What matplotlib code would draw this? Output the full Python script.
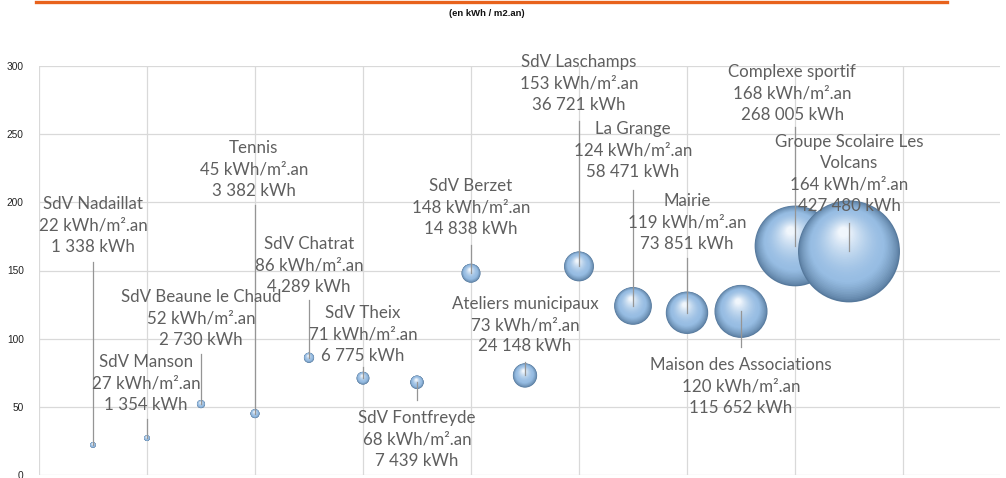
import matplotlib
matplotlib.use("Agg")
import matplotlib.pyplot as plt
import numpy as np
from matplotlib.lines import Line2D
from matplotlib.colors import to_rgb

# ---- data ----
names = ["SdV Nadaillat", "SdV Manson", "SdV Beaune le Chaud", "Tennis", "SdV Chatrat",
         "SdV Theix", "SdV Fontfreyde", "SdV Berzet", "Ateliers municipaux", "SdV Laschamps",
         "La Grange", "Mairie", "Maison des Associations", "Complexe sportif",
         "Groupe Scolaire Les\nVolcans"]
rank = [1, 2, 3, 4, 5, 6, 7, 8, 9, 10, 11, 12, 13, 14, 15]
intensity = [22, 27, 52, 45, 86, 71, 68, 148, 73, 153, 124, 119, 120, 168, 164]
consumption = [1338, 1354, 2730, 3382, 4289, 6775, 7439, 14838, 24148, 36721,
               58471, 73851, 115652, 268005, 427480]
y_ticks = [0, 50, 100, 150, 200, 250, 300]

# label placement (data coords): text centre and leader line end
label_x = [1.0, 1.98, 3.0, 3.98, 5.0, 6.0, 7.0, 8.0, 9.0, 10.0, 11.0, 12.0, 13.0, 13.95, 15.0]
label_y = [183, 67, 115, 224, 154, 103, 26, 196, 110, 287, 238, 185, 65, 280, 221]
leader_end = [156, 41, 89, 198, 128, 79, 55, 169, 83, 260, 209, 159, 94, 255, 185]

W, H = 1006, 478
fig = plt.figure(figsize=(W / 100, H / 100), dpi=100)
fig.patch.set_facecolor("white")

ax_left, ax_right = 39, 1000
ax_top, ax_bottom = 66, 475
ax = fig.add_axes([ax_left / W, (H - ax_bottom) / H, (ax_right - ax_left) / W,
                   (ax_bottom - ax_top) / H])
ax.set_xlim(0, (ax_right - ax_left) / 54.0)
ax.set_ylim(0, 300)
ax.set_xticks(np.arange(0, 17, 2))
ax.set_yticks(y_ticks)
ax.set_xticklabels([])
ax.set_yticklabels([str(v) for v in y_ticks], fontsize=7.3,
                   fontfamily="Liberation Sans", color="#222222")
ax.tick_params(axis="both", length=0, pad=11)
ax.grid(True, color="#d9d9d9", lw=0.9, zorder=0)
ax.set_axisbelow(True)
for s in ax.spines.values():
    s.set_visible(False)
ax.set_facecolor("white")

# pixel -> data scale
px_per_y = (ax_bottom - ax_top) / 300.0
px_per_x = 54.0
size_scale = 5390.0 / max(consumption)

c_edge = np.array(to_rgb("#56799c"))
c_mid = np.array(to_rgb("#97bde3"))
c_hi = np.array(to_rgb("#f0f6fc"))

N = 40
for i in range(len(rank)):
    s0 = consumption[i] * size_scale
    r_px = np.sqrt(s0) / 2 * 100 / 72
    base_z = 2 + i * 0.05
    for k in range(N):
        frac = 1 - 0.92 * k / N
        t = k / (N - 1)
        if t < 0.3:
            col = c_edge + (c_mid - c_edge) * (t / 0.3) ** 0.7
        else:
            col = c_mid + (c_hi - c_mid) * ((t - 0.3) / 0.7) ** 1.6
        dy = 0.42 * r_px * (1 - frac) / px_per_y
        dx = -0.12 * r_px * (1 - frac) / px_per_x
        ax.scatter([rank[i] + dx], [intensity[i] + dy], s=s0 * frac ** 2, color=col,
                   edgecolors="none", zorder=base_z + k * 0.0005)

# leader lines
for i in range(len(rank)):
    ax.add_line(Line2D([rank[i], rank[i]], [intensity[i], leader_end[i]],
                       color="#959595", lw=0.9, zorder=5))

# labels
for i in range(len(rank)):
    txt = f"{names[i]}\n{intensity[i]} kWh/m².an\n{consumption[i]:,} kWh".replace(",", " ")
    ax.text(label_x[i], label_y[i], txt, ha="center", va="center",
            multialignment="center", fontsize=12.2, fontfamily="Lato",
            color="#5f5f5f", linespacing=1.42, zorder=6, clip_on=False)

# orange rule and subtitle
fig.add_artist(Line2D([36 / W, 947 / W], [1 - 1.5 / H, 1 - 1.5 / H],
                      color="#e8621c", lw=2.4, transform=fig.transFigure))
fig.text(487 / W, 1 - 14 / H, "(en kWh / m2.an)", ha="center", va="center",
         fontsize=6.8, fontweight="bold", fontfamily="Liberation Sans", color="#111111")

fig.savefig("out.png", dpi=100)
